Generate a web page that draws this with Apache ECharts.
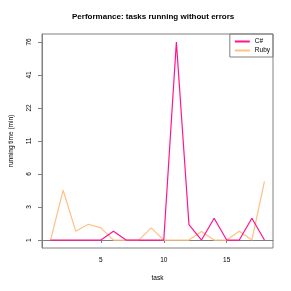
<!DOCTYPE html>
<html><head><meta charset="utf-8">
<script src="https://cdn.jsdelivr.net/npm/echarts@6/dist/echarts.min.js"></script>
<style>html,body{margin:0;padding:0;background:#fff}#c{width:291px;height:291px}</style>
</head><body><div id="c"></div>
<script>
// task numbers
var tasks = [1,2,3,4,5,6,7,8,9,10,11,12,13,14,15,16,17,18];
// values in axis tick units (0 = "1", 1 = "3", ... 6 = "76")
var csharp = [0,0,0,0,0,0.27,0,0,0,0,6.0,0.47,0,0.66,0,0,0.66,0];
var ruby   = [0,1.51,0.27,0.48,0.37,0,0,0,0.37,0,0,0,0.26,0,0,0.27,0,1.78];
var yTickLabels = ['1','3','6','11','22','41','76'];
var xTicks = [5,10,15];

var font = 'Liberation Sans, Arial, sans-serif';
function pairs(v){ return tasks.map(function(t,i){ return [t, v[i]]; }); }
var chart = echarts.init(document.getElementById('c'), null, {renderer:'canvas'});
chart.setOption({
  animation: false,
  backgroundColor: '#fff',
  title: {
    text: 'Performance: tasks running without errors',
    left: 72, top: 13, padding: 0,
    textStyle: {fontFamily: font, fontSize: 8, fontWeight: 'bold', color: '#000'}
  },
  grid: {left: 34, right: 18, top: 34, bottom: 43, show: true, borderColor: '#808080', borderWidth: 1, backgroundColor: 'transparent'},
  legend: {
    right: 18, top: 34, orient: 'vertical',
    itemWidth: 15, itemHeight: 2, itemGap: 2,
    padding: [4, 3, 3, 5],
    borderColor: '#808080', borderWidth: 1, borderRadius: 0,
    textStyle: {fontFamily: font, fontSize: 6.5, lineHeight: 7, color: '#000', padding: [0,0,0,0]},
    data: [{name:'C#', icon:'rect'},{name:'Ruby', icon:'rect'}]
  },
  xAxis: {
    type: 'value', min: 0.32, max: 18.68,
    name: 'task', nameLocation: 'middle', nameGap: 27,
    nameTextStyle: {fontFamily: font, fontSize: 6.5, color: '#000'},
    axisLine: {show: true, lineStyle: {color: '#808080', width: 1}},
    axisTick: {show: true, length: 3, lineStyle: {color: '#808080'}, customValues: xTicks},
    axisLabel: {fontFamily: font, fontSize: 6.5, color: '#000', margin: 9, customValues: xTicks},
    splitLine: {show: false}
  },
  yAxis: {
    type: 'value', min: -0.24, max: 6.24,
    name: 'running time (min)', nameLocation: 'middle', nameGap: 27,
    nameTextStyle: {fontFamily: font, fontSize: 6.5, color: '#000'},
    axisLine: {show: true, lineStyle: {color: '#808080', width: 1}},
    axisTick: {show: true, length: 4, lineStyle: {color: '#808080'}, customValues: [0,1,2,3,4,5,6]},
    axisLabel: {fontFamily: font, fontSize: 6.5, color: '#000', margin: 9, rotate: 90,
      customValues: [0,1,2,3,4,5,6],
      formatter: function(v){ return yTickLabels[Math.round(v)]; }},
    splitLine: {show: false}
  },
  series: [
    {name: 'C#', type: 'line', data: pairs(csharp), symbol: 'none', itemStyle: {color: '#FF1493'}, lineStyle: {color: '#FF1493', width: 1.2}, z: 3},
    {name: 'Ruby', type: 'line', data: pairs(ruby), symbol: 'none', itemStyle: {color: '#FFC080'}, lineStyle: {color: '#FFC080', width: 1.2}, z: 2}
  ]
});
</script></body></html>
